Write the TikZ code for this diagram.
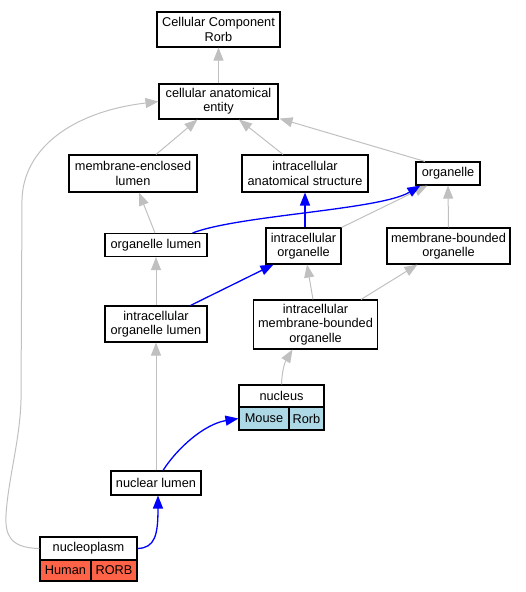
\documentclass[tikz,border=0pt]{standalone}
\usepackage{fontspec}
\setmainfont{Liberation Sans}
\usetikzlibrary{arrows.meta,calc}
\definecolor{edgegray}{HTML}{C0C0C0}
\definecolor{mouseblue}{HTML}{ADD8E6}
\definecolor{humanred}{HTML}{FF6347}
\tikzset{
  box/.style={draw=black, line width=1.1bp, fill=white, inner sep=0pt, align=center,
              font=\fontsize{12.8}{14.3}\selectfont},
  gedge/.style={draw=edgegray, line width=1bp, -{Triangle[length=13bp,width=10bp]}},
  bedge/.style={draw=blue, line width=1.3bp, -{Triangle[length=13bp,width=10bp]}}
}
\begin{document}
\begin{tikzpicture}[x=1bp,y=-1bp]
\useasboundingbox (0,0) rectangle (526,592);
% nodes
\node[box, minimum width=123bp, minimum height=35bp] (ccr) at (218.5,29.5) {Cellular Component\\Rorb};
\node[box, minimum width=119bp, minimum height=35bp] (cae) at (218.5,101.5) {cellular anatomical\\entity};
\node[box, minimum width=128bp, minimum height=37bp] (mel) at (133,173.5) {membrane-enclosed\\lumen};
\node[box, minimum width=126bp, minimum height=37bp] (ias) at (305,173.5) {intracellular\\anatomical structure};
\node[box, minimum width=64bp, minimum height=23bp] (org) at (448,173.5) {organelle};
\node[box, minimum width=102bp, minimum height=23bp] (ol) at (156,245) {organelle lumen};
\node[box, minimum width=75bp, minimum height=36bp] (io) at (303.5,246) {intracellular\\organelle};
\node[box, minimum width=123bp, minimum height=36bp] (mbo) at (448.5,246) {membrane-bounded\\organelle};
\node[box, minimum width=102bp, minimum height=36bp] (iol) at (156,324) {intracellular\\organelle lumen};
\node[box, minimum width=124bp, minimum height=49bp] (imbo) at (315.5,324.5) {intracellular\\membrane-bounded\\organelle};
\node[box, minimum width=85bp, minimum height=22bp] (nucleus) at (281.5,396) {nucleus};
\node[box, fill=mouseblue, minimum width=50bp, minimum height=23bp] (mouse) at (264,418.5) {Mouse};
\node[box, fill=mouseblue, minimum width=35bp, minimum height=23bp] (rorbm) at (306.5,418.5) {Rorb};
\node[box, minimum width=90bp, minimum height=24bp] (nl) at (156,483) {nuclear lumen};
\node[box, minimum width=97bp, minimum height=23bp] (npl) at (88.5,548.5) {nucleoplasm};
\node[box, fill=humanred, minimum width=51bp, minimum height=21bp] (human) at (65.5,570.5) {Human};
\node[box, fill=humanred, minimum width=46bp, minimum height=21bp] (rorbh) at (114,570.5) {RORB};
% gray edges
\draw[gedge] (cae.north) -- (ccr.south);
\draw[gedge] ($(mel.north)+(23,0)$) -- ($(cae.south)+(-21,0)$);
\draw[gedge] ($(ias.north)+(-22,0)$) -- ($(cae.south)+(20.5,0)$);
\draw[gedge] ($(org.north)+(-23,0)$) -- ($(cae.south east)+(1,-1)$);
\draw[gedge] (npl.west) .. controls (10,548) and (5,535) .. (6,515)
   .. controls (8,480) and (20,440) .. (21,400) -- (22,200)
   .. controls (23,150) and (70,112) .. (cae.west);
\draw[gedge] ($(ol.north)+(-1,0)$) -- ($(mel.south)+(6,0)$);
\draw[gedge] (iol.north) -- (ol.south);
\draw[gedge] (nl.north) -- (iol.south);
\draw[gedge] (mbo.north) -- (org.south);
\draw[gedge] (io.north east) -- ($(org.south west)+(12,0)$);
\draw[gedge] ($(imbo.north)+(-2.5,0)$) -- ($(io.south)+(3.5,0)$);
\draw[gedge] ($(imbo.north east)+(-17,0)$) -- ($(mbo.south west)+(31,0)$);
\draw[gedge] (nucleus.north) .. controls (282,370) and (285,362) .. ($(imbo.south)+(-23,0)$);
% blue edges
\draw[bedge] ($(ol.north east)+(-15,0)$) .. controls (240,215) and (380,210) .. ($(org.south west)+(5,0)$);
\draw[bedge] (ias.south |- io.north) -- (ias.south);
\draw[bedge] ($(iol.north east)+(-17,0)$) -- ($(io.south west)+(8,0)$);
\draw[bedge] ($(nl.north)+(7,0)$) .. controls (178,447) and (205,424) .. (mouse.west);
\draw[bedge] (npl.east) .. controls (155,548) and (158,535) .. ($(nl.south)+(2,0)$);
\end{tikzpicture}
\end{document}
